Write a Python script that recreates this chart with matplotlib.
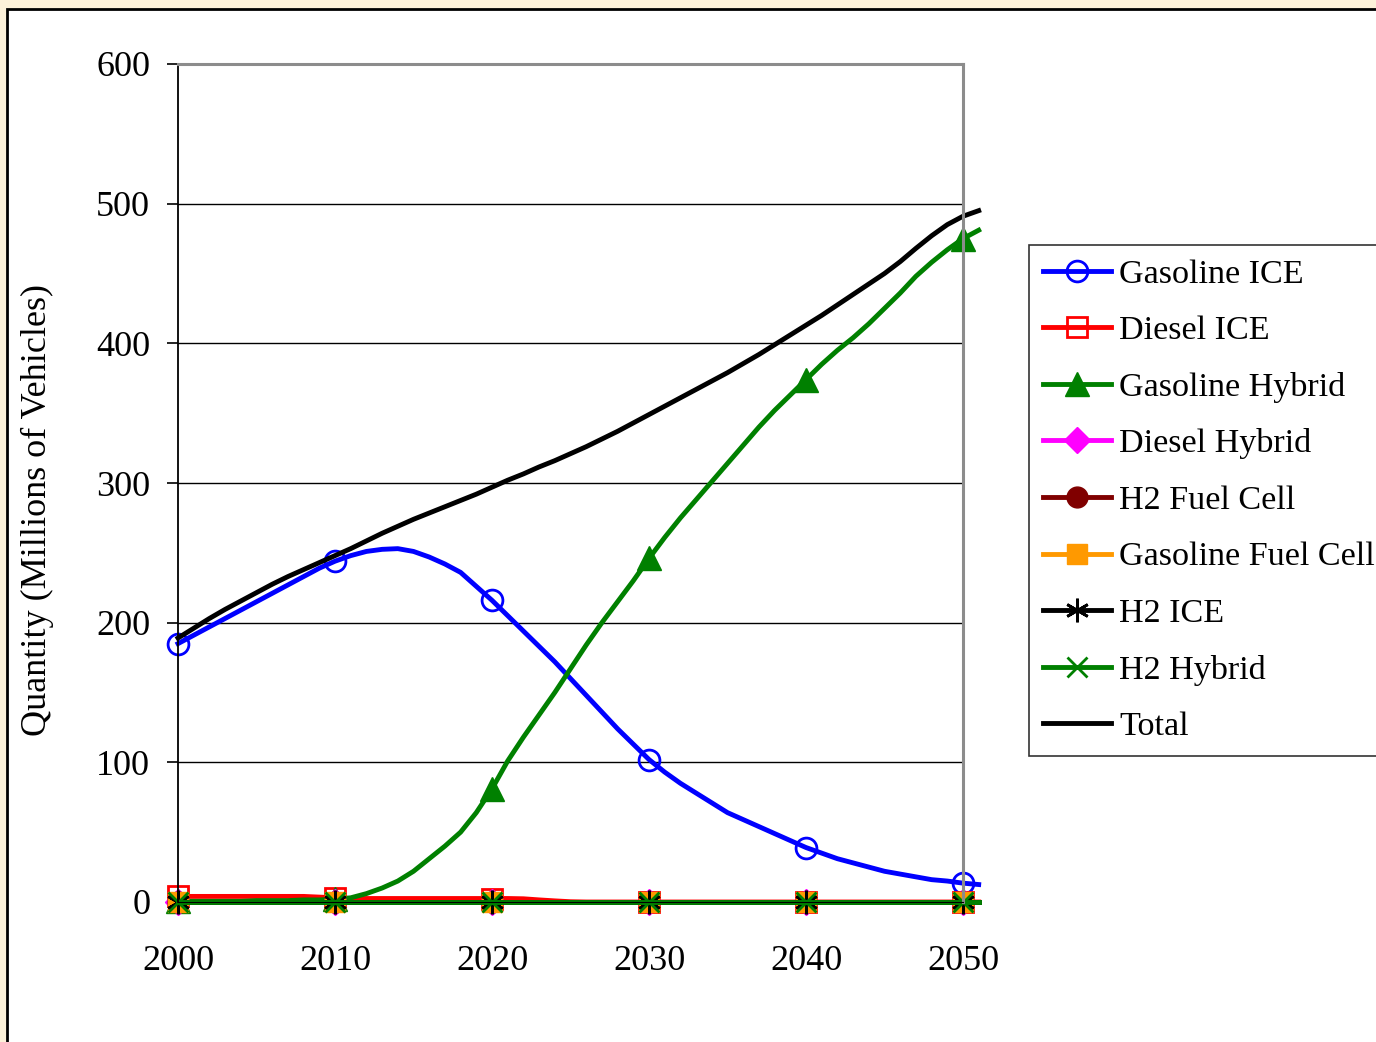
import matplotlib
matplotlib.use("Agg")
import matplotlib.pyplot as plt
from matplotlib.patches import Rectangle

plt.rcParams['font.family'] = ['Liberation Serif', 'DejaVu Serif']

# Vehicle stock by technology, millions of vehicles, 2000-2051
years = list(range(2000, 2052))

gasoline_ice = [185, 191, 197, 203, 209, 215, 221, 227, 233, 239,
                244, 248, 251, 252.5, 253, 251, 247, 242, 236, 226,
                216, 205, 194, 183, 172, 160, 148, 136, 124, 113,
                102, 93, 85, 78, 71, 64, 59, 54, 49, 44,
                39, 35, 31, 28, 25, 22, 20, 18, 16, 15,
                13.5, 12.5]

diesel_ice = [4, 4, 4, 4, 4, 4, 4, 4, 4, 3.5,
              3, 2.5, 2.5, 2.5, 2.5, 2.5, 2.5, 2.5, 2.5, 2.5,
              2.5, 2.5, 2.3, 1.5, 0.8, 0.2, 0, 0, 0, 0,
              0, 0, 0, 0, 0, 0, 0, 0, 0, 0,
              0, 0, 0, 0, 0, 0, 0, 0, 0, 0,
              0, 0]

gasoline_hybrid = [0.5, 0.5, 0.5, 0.5, 0.5, 1, 1, 1, 1.5, 1.5,
                   2, 3, 6, 10, 15, 22, 31, 40, 50, 64,
                   81, 101, 118, 134, 150, 167, 184, 200, 215, 230,
                   246, 261, 275, 288, 301, 314, 327, 340, 352, 363,
                   374, 385, 395, 404, 414, 425, 436, 448, 458, 467,
                   475, 481]

total = [189, 196, 203, 209.5, 215.5, 221.5, 227.5, 233, 238, 243,
         248, 253, 258.5, 264, 269, 274, 278.5, 283, 287.5, 292,
         297, 302, 306.5, 311.5, 316, 321, 326, 331.5, 337, 343,
         349, 355, 361, 367, 373, 379, 385.5, 392, 399, 406,
         413, 420, 427.5, 435, 442.5, 450, 458.5, 468, 477, 485,
         491, 495]

# technologies that never enter the fleet
diesel_hybrid = [0] * len(years)
h2_fuel_cell = [0] * len(years)
gasoline_fuel_cell = [0] * len(years)
h2_ice = [0] * len(years)
h2_hybrid = [0] * len(years)

series = [
    ("Gasoline ICE", gasoline_ice, dict(color="#0000FF", marker="o", mfc="none", ms=15, mew=2)),
    ("Diesel ICE", diesel_ice, dict(color="#FF0000", marker="s", mfc="none", ms=14, mew=2)),
    ("Gasoline Hybrid", gasoline_hybrid, dict(color="#008000", marker="^", mfc="#008000", ms=17)),
    ("Diesel Hybrid", diesel_hybrid, dict(color="#FF00FF", marker="D", mfc="#FF00FF", ms=13)),
    ("H2 Fuel Cell", h2_fuel_cell, dict(color="#800000", marker="o", mfc="#800000", ms=15)),
    ("Gasoline Fuel Cell", gasoline_fuel_cell, dict(color="#FF9900", marker="s", mfc="#FF9900", ms=15)),
    ("H2 ICE", h2_ice, dict(color="#000000", marker=(6, 2, 0), ms=17, mew=2)),
    ("H2 Hybrid", h2_hybrid, dict(color="#008000", marker="x", ms=15, mew=2)),
    ("Total", total, dict(color="#000000")),
]

fig = plt.figure(figsize=(13.76, 10.42), dpi=100)
fig.set_facecolor("#FCF1D9")

# white slide panel with black border, kept behind the axes
fig.patches.append(Rectangle((7 / 1376, -0.05), 1.1, 1.05 - 9 / 1042,
                             transform=fig.transFigure, facecolor="white",
                             edgecolor="black", linewidth=2, zorder=-1))

ax = fig.add_axes([178 / 1376, 1 - 902 / 1042, 785 / 1376, 838 / 1042])

handles = []
for label, values, style in series:
    line, = ax.plot(years, values, label=label, linewidth=3.5, clip_on=False,
                    markevery=list(range(0, len(years), 10)), **style)
    handles.append(line)

ax.set_xlim(2000, 2050)
ax.set_ylim(0, 600)
ax.set_xticks(range(2000, 2051, 10))
ax.set_yticks(range(0, 601, 100))
ax.tick_params(axis='y', direction='out', length=8, width=1.2, pad=12, labelsize=26)
ax.tick_params(axis='x', length=0, pad=31, labelsize=26)

ax.grid(axis='y', color='black', linewidth=1)
ax.set_axisbelow(True)
for side in ("top", "right"):
    ax.spines[side].set_color("#8C8C8C")
    ax.spines[side].set_linewidth(2.2)
ax.spines["left"].set_color("black")
ax.spines["left"].set_linewidth(1.3)
ax.spines["bottom"].set_color("black")

fig.text(37 / 1376, 1 - 510 / 1042, "Quantity (Millions of Vehicles)",
         rotation=90, ha='center', va='center', fontsize=26)

leg = fig.legend(handles=handles, loc='upper left',
                 bbox_to_anchor=(1029 / 1376, 1 - 245 / 1042),
                 fontsize=24.6, frameon=True, fancybox=False, edgecolor='black',
                 borderpad=0.4, labelspacing=0.75, handlelength=1.99,
                 handletextpad=0.25, borderaxespad=0)
leg.get_frame().set_linewidth(1.2)

fig.savefig("out.png", dpi=100, facecolor=fig.get_facecolor())
